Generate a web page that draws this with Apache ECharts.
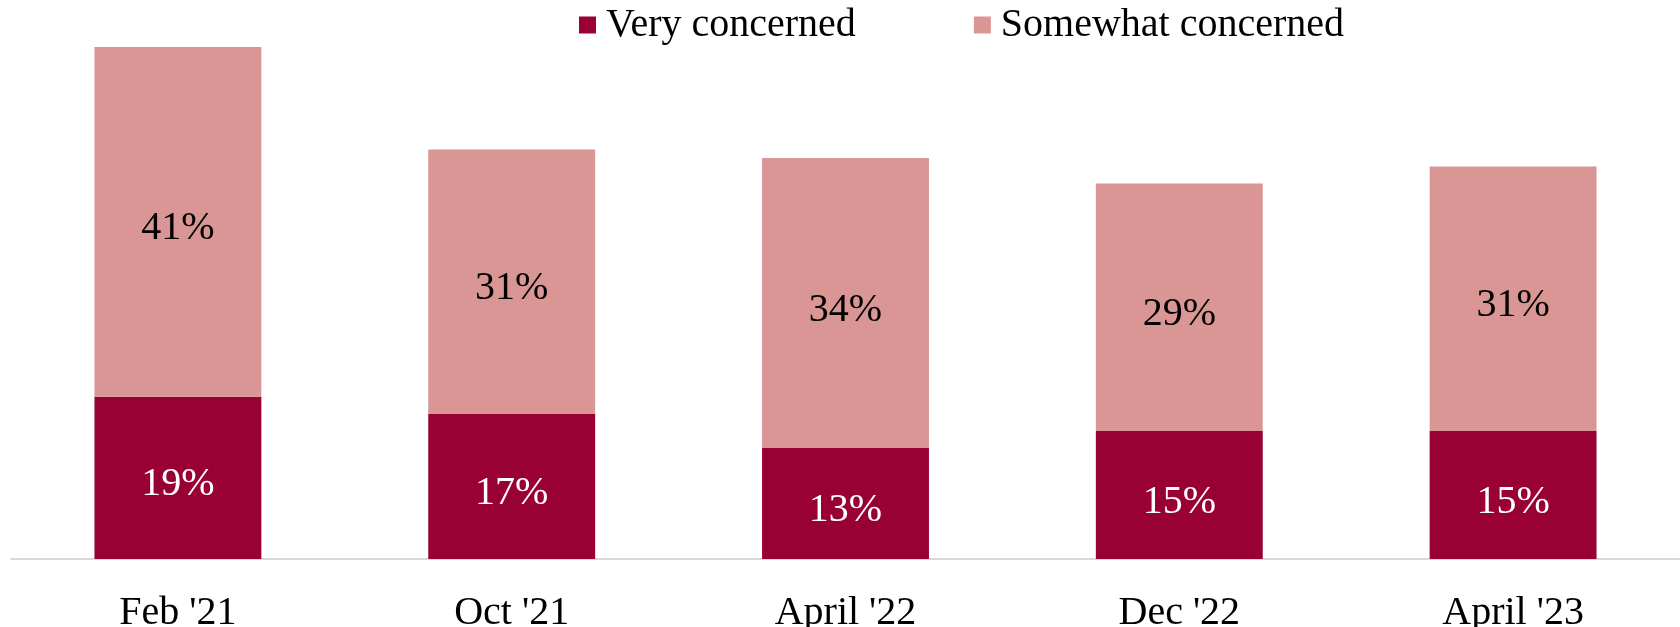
<!DOCTYPE html>
<html>
<head>
<meta charset="utf-8">
<script src="https://cdn.jsdelivr.net/npm/echarts@6/dist/echarts.min.js"></script>
<style>
  html, body { margin: 0; padding: 0; background: #fff; }
  #chart { width: 1680px; height: 627px; }
</style>
</head>
<body>
<div id="chart"></div>
<script>
// survey waves
const categories = ["Feb '21", "Oct '21", "April '22", "Dec '22", "April '23"]
// share of respondents, percent
const veryConcerned = [19, 17, 13, 15, 15]
const somewhatConcerned = [41, 31, 34, 29, 31]

const font = 'Liberation Serif'
const chart = echarts.init(document.getElementById('chart'))

let option = {
  animation: false,
  textStyle: { fontFamily: font },
  legend: {
    top: 0,
    left: 574,
    itemWidth: 17,
    itemHeight: 17,
    itemGap: 118,
    icon: 'rect',
    textStyle: { fontFamily: font, fontSize: 40, color: '#000', padding: [0, 0, 0, 5] },
    data: ['Very concerned', 'Somewhat concerned']
  },
  grid: {
    left: 11,
    right: 0,
    top: 47,
    bottom: 68,
    containLabel: false,
    outerBoundsMode: 'none'
  },
  xAxis: {
    type: 'category',
    data: categories,
    axisTick: { show: false },
    axisLine: { lineStyle: { color: '#d9d9d9', width: 2 } },
    axisLabel: { fontFamily: font, fontSize: 40, color: '#000', margin: 34 }
  },
  yAxis: {
    type: 'value',
    min: 0,
    max: 60,
    show: false,
    splitLine: { show: false }
  },
  series: [
    {
      name: 'Very concerned',
      type: 'bar',
      stack: 'total',
      barWidth: '50%',
      data: veryConcerned,
      itemStyle: { color: '#990033' },
      label: {
        show: true,
        position: 'inside',
        offset: [0, 7],
        formatter: '{c}%',
        fontFamily: font,
        fontSize: 40,
        color: '#fff'
      }
    },
    {
      name: 'Somewhat concerned',
      type: 'bar',
      stack: 'total',
      barWidth: '50%',
      data: somewhatConcerned,
      itemStyle: { color: '#d99694' },
      label: {
        show: true,
        position: 'inside',
        offset: [0, 7],
        formatter: '{c}%',
        fontFamily: font,
        fontSize: 40,
        color: '#000'
      }
    }
  ]
}
chart.setOption(option)
</script>
</body>
</html>
